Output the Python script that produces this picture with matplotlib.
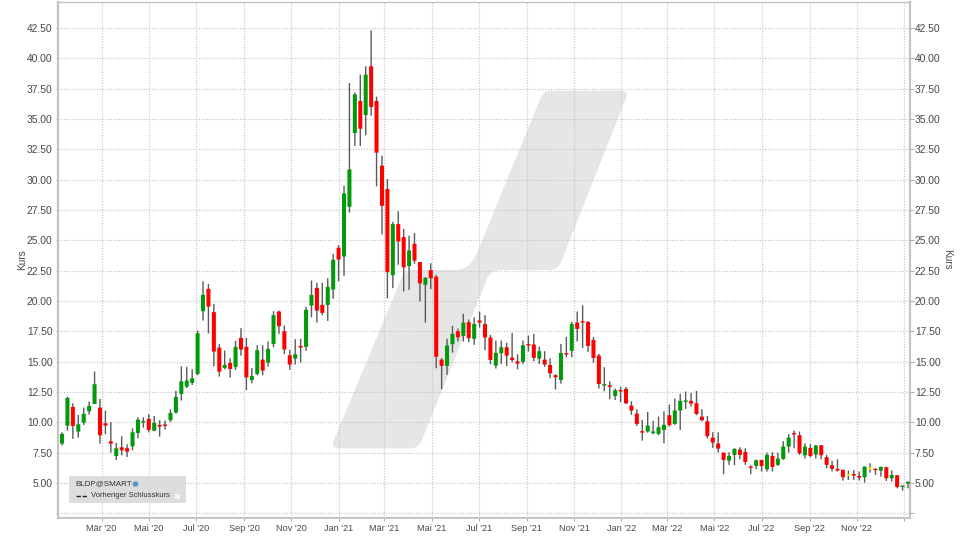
import numpy as np
import pandas as pd
import matplotlib
matplotlib.use('Agg')
import matplotlib.pyplot as plt
from matplotlib.path import Path
from matplotlib.patches import PathPatch, Rectangle, Circle
from matplotlib.transforms import Affine2D

plt.rcParams['font.family'] = ['Liberation Sans', 'DejaVu Sans']

# weekly candles
dates = pd.date_range('2020-01-10', periods=157, freq='7D')
opens = [8.24, 9.73, 11.27, 9.23, 9.97, 10.91, 11.51, 11.21, 9.92, 8.43, 7.22, 7.94, 7.86, 8.02, 9.12, 9.97,
         10.28, 9.31, 9.78, 9.78, 10.17, 10.8, 12.34, 12.94, 13.25, 13.99, 19.16, 21.0, 19.08, 16.16, 14.48,
         14.9, 14.57, 16.96, 16.22, 13.49, 13.99, 15.17, 14.92, 16.46, 19.13, 17.51, 15.53, 15.25, 16.3, 16.22,
         19.63, 21.08, 19.68, 19.68, 20.95, 24.39, 23.67, 27.77, 33.85, 36.49, 35.33, 39.35, 36.49, 31.15,
         29.23, 22.13, 26.34, 25.27, 22.88, 24.72, 23.21, 21.33, 22.55, 22.0, 15.17, 14.65, 16.44, 17.51, 17.12,
         18.25, 16.88, 18.39, 18.09, 16.99, 14.68, 15.69, 16.19, 15.34, 15.03, 14.98, 16.44, 16.41, 15.25,
         15.17, 14.73, 13.88, 13.49, 15.69, 15.89, 18.22, 18.33, 18.28, 16.79, 15.5, 13.03, 13.05, 12.17, 12.65,
         12.76, 11.38, 10.72, 9.24, 9.24, 9.1, 9.04, 9.37, 10.58, 9.87, 10.97, 11.68, 11.77, 11.57, 10.47, 10.09,
         8.74, 8.25, 7.5, 6.84, 7.31, 7.75, 7.56, 6.32, 6.4, 6.9, 6.13, 7.23, 6.49, 6.98, 8.0, 9.1, 8.93, 7.28,
         7.89, 7.34, 8.11, 7.12, 6.46, 6.16, 6.07, 5.66, 5.74, 5.58, 5.47, 6.2, 6.16, 6.02, 6.29, 5.39, 5.63,
         4.67, 4.95]
closes = [9.04, 12.01, 9.70, 9.84, 10.69, 11.35, 13.14, 8.93, 9.73, 8.24, 7.86, 7.69, 7.58, 9.18, 10.22, 10.08,
          9.37, 9.95, 9.64, 9.70, 10.77, 12.09, 13.38, 13.44, 13.63, 17.34, 20.51, 19.54, 15.83, 14.18, 14.73,
          14.4, 16.22, 16.0, 13.71, 13.82, 15.94, 14.26, 16.05, 18.83, 17.92, 16.0, 14.76, 15.61, 16.16, 19.27,
          20.51, 19.21, 19.02, 21.17, 23.4, 23.42, 28.87, 30.85, 37.04, 34.2, 38.66, 36.0, 32.23, 27.85, 22.38,
          26.34, 24.91, 22.77, 24.17, 23.32, 21.45, 21.91, 21.88, 15.4, 14.65, 16.33, 17.29, 17.01, 18.22, 16.93,
          18.11, 18.22, 16.99, 15.14, 15.72, 16.19, 15.5, 15.14, 14.84, 16.35, 16.33, 15.31, 15.86, 14.76, 14.04,
          13.71, 15.72, 15.58, 18.11, 17.7, 18.22, 16.3, 15.31, 13.16, 13.14, 12.92, 12.64, 12.54, 11.57, 10.97,
          9.87, 9.15, 9.73, 9.24, 9.59, 9.79, 9.76, 10.97, 11.77, 11.77, 11.55, 10.69, 10.17, 8.85, 8.33, 7.83,
          6.9, 7.23, 7.81, 7.31, 6.73, 6.24, 6.87, 6.4, 7.31, 6.32, 7.01, 8.0, 8.74, 8.99, 7.45, 8.0, 7.23, 8.08,
          7.28, 6.49, 6.16, 6.02, 5.47, 5.66, 5.61, 5.44, 6.35, 6.2, 6.05, 6.32, 5.39, 5.66, 4.67, 4.75, 5.08]
highs = [9.18, 12.12, 11.57, 10.6, 11.21, 11.71, 14.18, 11.93, 10.96, 10.0, 8.3, 8.85, 8.19, 9.51, 10.41, 10.41,
         10.66, 10.52, 10.17, 10.14, 11.07, 12.59, 14.62, 14.57, 14.37, 17.56, 21.63, 21.39, 19.76, 16.46, 15.91,
         15.28, 16.71, 17.76, 16.96, 14.48, 16.35, 16.35, 16.66, 19.16, 19.21, 17.98, 15.97, 16.85, 16.88, 19.52,
         21.69, 21.5, 21.5, 21.88, 23.89, 24.6, 29.5, 37.97, 37.18, 38.66, 39.35, 42.32, 36.85, 31.98, 30.05,
         26.53, 27.39, 25.93, 25.38, 25.6, 23.21, 21.97, 23.12, 22.16, 15.28, 16.88, 17.95, 17.73, 18.94, 18.47,
         18.66, 19.13, 18.83, 17.21, 16.74, 16.74, 16.55, 17.37, 15.61, 16.74, 17.15, 17.29, 16.24, 15.86, 15.28,
         13.96, 16.46, 17.04, 18.28, 19.13, 19.65, 18.33, 17.04, 15.64, 14.54, 13.38, 12.78, 12.92, 12.92, 11.74,
         11.08, 10.2, 10.86, 10.12, 10.47, 10.91, 11.46, 11.96, 12.34, 12.54, 12.43, 12.59, 11.08, 10.53, 9.18,
         9.18, 7.5, 7.53, 7.86, 7.94, 7.86, 6.46, 6.93, 6.9, 7.5, 7.53, 7.5, 8.44, 9.02, 9.32, 9.24, 8.27, 8.19,
         8.14, 8.11, 7.31, 6.82, 6.95, 6.13, 6.02, 6.07, 5.94, 6.35, 6.62, 6.21, 6.35, 6.35, 6.02, 5.66, 4.78, 5.14]
lows = [8.08, 9.31, 8.63, 8.74, 9.78, 10.63, 11.51, 8.24, 9.01, 7.5, 6.89, 7.28, 7.14, 7.69, 8.68, 9.56, 9.18,
        9.26, 8.82, 9.4, 10.03, 10.72, 11.79, 12.83, 13.08, 13.88, 18.39, 17.32, 14.62, 13.77, 14.37, 13.69,
        14.32, 15.5, 12.64, 13.22, 13.88, 13.88, 14.59, 16.19, 17.29, 15.61, 14.32, 14.76, 14.92, 15.89, 18.66,
        18.22, 18.83, 18.36, 20.18, 21.63, 22.08, 27.28, 32.78, 32.78, 33.66, 35.28, 29.45, 25.49, 20.21, 21.06,
        22.99, 20.79, 20.92, 23.07, 19.96, 18.23, 20.98, 14.46, 12.73, 13.91, 15.75, 16.66, 16.66, 16.6, 16.38,
        17.81, 15.94, 14.79, 14.43, 14.81, 14.65, 14.95, 14.37, 14.81, 15.83, 15.03, 14.81, 14.57, 13.63, 12.7,
        13.19, 15.36, 15.36, 16.66, 16.14, 15.8, 14.92, 12.78, 12.56, 11.9, 11.84, 11.66, 11.49, 10.61, 9.7, 8.49,
        9.15, 9.02, 8.93, 8.27, 9.65, 9.79, 9.37, 11.11, 11.3, 10.58, 10.09, 8.66, 7.89, 7.5, 5.72, 6.49, 6.46,
        6.95, 6.49, 5.72, 6.13, 5.94, 5.94, 5.94, 6.4, 6.9, 7.5, 7.86, 7.31, 7.01, 7.12, 7.01, 6.95, 6.21, 5.94,
        5.94, 5.19, 5.25, 5.25, 5.19, 5.03, 5.85, 5.66, 5.52, 5.17, 5.11, 4.56, 4.37, 4.56]

month_ticks = ['2020-03-01', '2020-05-01', '2020-07-01', '2020-09-01', '2020-11-01', '2021-01-01', '2021-03-01',
               '2021-05-01', '2021-07-01', '2021-09-01', '2021-11-01', '2022-01-01', '2022-03-01', '2022-05-01',
               '2022-07-01', '2022-09-01', '2022-11-01', '2023-01-01']
month_labels = ["Mär '20", "Mai '20", "Jul '20", "Sep '20", "Nov '20", "Jan '21", "Mär '21", "Mai '21", "Jul '21",
                "Sep '21", "Nov '21", "Jan '22", "Mär '22", "Mai '22", "Jul '22", "Sep '22", "Nov '22", ""]
price_ticks = np.arange(2.5, 42.51, 2.5)
price_labels = ['' if p < 5 else '%.2f' % p for p in price_ticks]

W, H = 960, 539
TXT = '#484848'
fig = plt.figure(figsize=(9.6, 5.39), dpi=100)
ax = fig.add_axes([58 / W, 1 - 518 / H, (910 - 58) / W, (518 - 2) / H])
px = Affine2D().scale(1 / W, -1 / H).translate(0, 1) + fig.transFigure

# grey logo behind the candles
M, L, C = Path.MOVETO, Path.LINETO, Path.CURVE3
logo = [((541, 97), M), ((544, 90.7), C), ((551, 90.7), C), ((620, 90.7), L), ((629, 90.7), C), ((626.5, 97), C),
        ((561.5, 261), L), ((558, 270), C), ((550, 270), C), ((500, 270), L), ((491, 270), C), ((487, 279), C),
        ((421.5, 441), L), ((418.5, 448.3), C), ((411, 448.3), C), ((339, 448.3), L), ((331, 448.3), C), ((333.5, 441), C),
        ((402, 277), L), ((405, 270), C), ((413, 270), C), ((455, 270), L), ((470, 270), C), ((477, 253), C),
        ((541, 97), L)]
ax.add_patch(PathPatch(Path([p[0] for p in logo], [p[1] for p in logo]), transform=px,
                       fc='#E6E6E6', ec='none', zorder=0.2))

# candles
opens = np.array(opens)
closes = np.array(closes)
colors = ['#FFFF00' if o == c else ('#009A0A' if c > o else '#FF0000') for o, c in zip(opens, closes)]
wicks = ax.vlines(dates, lows, highs, color='#5A5A5A', lw=1.0, zorder=2)
wicks.set_snap(False)
bodies = ax.bar(dates, np.maximum(np.abs(closes - opens), 0.12),
                bottom=np.minimum(opens, closes) - (opens == closes) * 0.06,
                width=5.2, color=colors, edgecolor='none', zorder=3)
for b in bodies:
    b.set_snap(False)

ax.set_xlim(dates[0] - pd.Timedelta(days=5.2), dates[-1] + pd.Timedelta(days=2.6))
ax.set_ylim(2.11, 44.65)
ax.set_axisbelow(True)
ax.set_xticks(pd.to_datetime(month_ticks))
ax.set_xticklabels(month_labels, fontsize=6.6, color=TXT)
ax.set_yticks(price_ticks)
ax.set_yticklabels(price_labels, fontsize=7.4, color=TXT)
ax.tick_params(axis='x', length=2, width=0.7, color='#AAAAAA', pad=2.5)
ax.tick_params(axis='y', length=1.5, width=0.7, color='#AAAAAA', pad=2.5)
ax.grid(True, color='#CACACA', lw=0.9, ls=(0, (1, 1.2)))

for s in ax.spines.values():
    s.set_color('#C4C4C4')
ax.spines['left'].set_linewidth(1.6)
ax.spines['right'].set_linewidth(1.6)
ax.spines['bottom'].set_linewidth(1.4)
ax.spines['top'].set_linewidth(1.0)

ax2 = ax.twinx()
ax2.set_ylim(ax.get_ylim())
ax2.set_yticks(price_ticks)
ax2.set_yticklabels(price_labels, fontsize=7.4, color=TXT)
ax2.tick_params(axis='y', length=3, width=0.7, color='#AAAAAA', pad=0.5)
ax2.patch.set_visible(False)
for s in ax2.spines.values():
    s.set_visible(False)

fig.text(22 / W, 1 - 260 / H, 'Kurs', rotation=90, fontsize=7.2, color=TXT, ha='center', va='center')
fig.text(947 / W, 1 - 259 / H, 'Kurs', rotation=270, fontsize=7.2, color=TXT, ha='center', va='center')

# legend box
ax.add_patch(Rectangle((69, 476), 117, 27, transform=px, fc='#DCDCDC', ec='none', alpha=0.95, zorder=5, clip_on=False))
ax.text(75, 483.5, 'BLDP@SMART', transform=px, fontsize=5.8, color='#333333', va='center', zorder=6)
ax.add_patch(Circle((135.5, 484), 2.8, transform=px, fc='#5B93C7', ec='#9DBBD6', lw=0.5, zorder=6))
ax.plot([76, 87], [495.5, 495.5], transform=px, color='#222222', lw=1, ls=(0, (3.2, 1.2)), zorder=6)
ax.text(91, 495.5, 'Vorheriger Schlusskurs', transform=px, fontsize=5.5, color='#333333', va='center', zorder=6)
ax.add_patch(Rectangle((174.5, 493.5), 5, 5, transform=px, fc='#F4F4F8', ec='none', zorder=6))

fig.savefig('out.png', dpi=100)
